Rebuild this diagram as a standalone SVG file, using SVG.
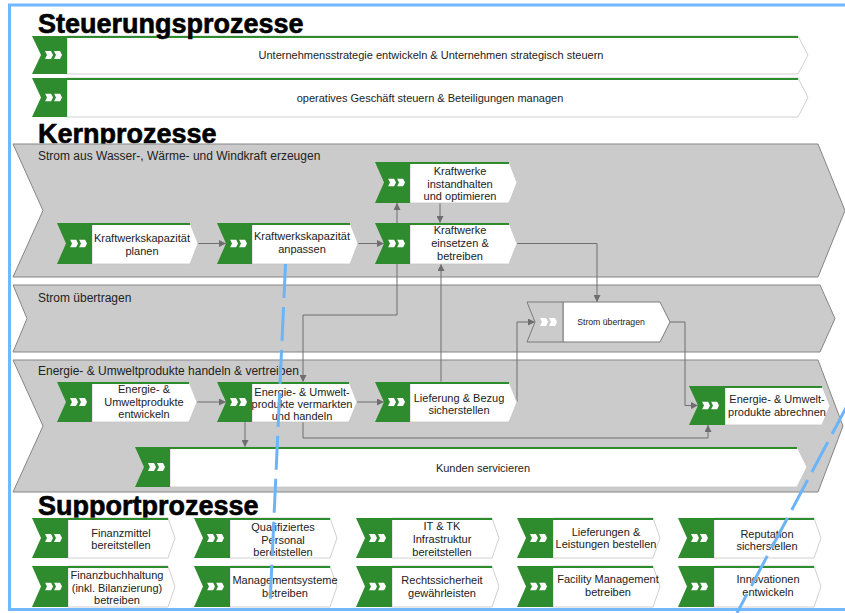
<svg xmlns="http://www.w3.org/2000/svg" xmlns:xlink="http://www.w3.org/1999/xlink" width="845" height="613" viewBox="0 0 845 613">
<style>
.lane{fill:#cbcbcb;stroke:#858585;stroke-width:1}
.g{fill:#2e8b2e}
.w{fill:#fff;stroke:#c4c4c4;stroke-width:0.8}
.gl{fill:none;stroke:#2e8b2e;stroke-width:2}
.gb{fill:#cbcbcb;stroke:#7a7a7a;stroke-width:1}
.wb{fill:#fff;stroke:#7a7a7a;stroke-width:1}
.t{font-family:"Liberation Sans",Arial,sans-serif;font-size:11px;fill:#222;text-anchor:middle}
.ln{font-family:"Liberation Sans",Arial,sans-serif;font-size:12px;fill:#222}
.h{font-family:"Liberation Sans",Arial,sans-serif;font-size:27px;font-weight:bold;fill:#000;stroke:#000;stroke-width:0.6}
.c{fill:none;stroke:#6e6e6e;stroke-width:1}
.blue{fill:none;stroke:#6cb4f8;stroke-width:3;stroke-dasharray:34 9}
</style>
<defs>
<symbol id="chev" viewBox="0 0 17 8" width="17" height="8"><path d="M0,0H6L8,4L6,8H0L2,4Z M9,0H15L17,4L15,8H9L11,4Z" fill="#fff"/></symbol>
<marker id="arr" viewBox="0 0 8 8" refX="8" refY="4" markerWidth="7" markerHeight="7" orient="auto" markerUnits="userSpaceOnUse"><path d="M0,0L8,4L0,8Z" fill="#6e6e6e"/></marker>
</defs>
<rect x="0" y="0" width="845" height="613" fill="#fff"/>
<rect x="9.5" y="5" width="850" height="604.5" fill="none" stroke="#70b8ff" stroke-width="3"/>

<text class="h" x="38" y="143">Kernprozesse</text>

<g id="lanes">
<path id="lane-erzeugen" class="lane" d="M13,144H818L845,210.5L818,277H13L43,210.5Z"/>
<text class="ln" x="38" y="160">Strom aus Wasser-, Wärme- und Windkraft erzeugen</text>
<path id="lane-uebertragen" class="lane" d="M13,285H820L835,318.5L820,352H13L27,318.5Z"/>
<text class="ln" x="38" y="302">Strom übertragen</text>
<path id="lane-handeln" class="lane" d="M13,360H818L843,426L818,492H13L43,426Z"/>
<text class="ln" x="38" y="375">Energie- &amp; Umweltprodukte handeln &amp; vertreiben</text>
</g>

<g id="steuer1">
<path class="w" d="M67,36H798L808,55L798,74H67Z"/>
<path class="g" d="M32,36H67V74H32L41,55Z"/>
<path class="gl" d="M67,37H798"/>
<use xlink:href="#chev" x="45" y="51"/>
<text class="t" x="431" y="59">Unternehmensstrategie entwickeln &amp; Unternehmen strategisch steuern</text>
</g>
<g id="steuer2">
<path class="w" d="M67,78H798L808,97.5L798,117H67Z"/>
<path class="g" d="M32,78H67V117H32L41,97.5Z"/>
<path class="gl" d="M67,79H798"/>
<use xlink:href="#chev" x="45" y="93.5"/>
<text class="t" x="430" y="102">operatives Geschäft steuern &amp; Beteiligungen managen</text>
</g>
<text class="h" x="38" y="33">Steuerungsprozesse</text>

<g id="connectors">
<path class="c" d="M198,243.5H226" marker-end="url(#arr)"/>
<path class="c" d="M358,243.5H384" marker-end="url(#arr)"/>
<path class="c" d="M397,223V203" marker-end="url(#arr)"/>
<path class="c" d="M440,203V223" marker-end="url(#arr)"/>
<path class="c" d="M441,382V264" marker-end="url(#arr)"/>
<path class="c" d="M517,243.5H597V302" marker-end="url(#arr)"/>
<path class="c" d="M397,264V315H303V382" marker-end="url(#arr)"/>
<path class="c" d="M197,402H226" marker-end="url(#arr)"/>
<path class="c" d="M357,402H384" marker-end="url(#arr)"/>
<path class="c" d="M517,402V322H535" marker-end="url(#arr)"/>
<path class="c" d="M670,322H685V405.5H698" marker-end="url(#arr)"/>
<path class="c" d="M303,422V438H708V425" marker-end="url(#arr)"/>
<path class="c" d="M245,422V447" marker-end="url(#arr)"/>
</g>

<g id="kraftwerkskapazitaet-planen">
<path class="w" d="M92,223H190L198,243.5L190,264H92Z"/>
<path class="g" d="M57,223H92V264H57L66,243.5Z"/>
<path class="gl" d="M92,224H190"/>
<use xlink:href="#chev" x="70" y="239.5"/>
<text class="t" x="142"><tspan x="142" y="242">Kraftwerkskapazität</tspan><tspan x="142" y="255">planen</tspan></text>
</g>
<g id="kraftwerkskapazitaet-anpassen">
<path class="w" d="M252,223H350L358,243.5L350,264H252Z"/>
<path class="g" d="M217,223H252V264H217L226,243.5Z"/>
<path class="gl" d="M252,224H350"/>
<use xlink:href="#chev" x="230" y="239.5"/>
<text class="t"><tspan x="302" y="240">Kraftwerkskapazität</tspan><tspan x="302" y="253">anpassen</tspan></text>
</g>
<g id="kraftwerke-einsetzen">
<path class="w" d="M410,223H509L517,243.5L509,264H410Z"/>
<path class="g" d="M375,223H410V264H375L384,243.5Z"/>
<path class="gl" d="M410,224H509"/>
<use xlink:href="#chev" x="388" y="239.5"/>
<text class="t"><tspan x="460" y="234">Kraftwerke</tspan><tspan x="460" y="247">einsetzen &amp;</tspan><tspan x="460" y="260">betreiben</tspan></text>
</g>
<g id="kraftwerke-instandhalten">
<path class="w" d="M410,162H509L517,182.5L509,203H410Z"/>
<path class="g" d="M375,162H410V203H375L384,182.5Z"/>
<path class="gl" d="M410,163H509"/>
<use xlink:href="#chev" x="388" y="178.5"/>
<text class="t"><tspan x="460" y="175">Kraftwerke</tspan><tspan x="460" y="187.5">instandhalten</tspan><tspan x="460" y="200">und optimieren</tspan></text>
</g>
<g id="strom-uebertragen">
<path class="wb" d="M563,302H660L670,322L660,342H563Z"/>
<path class="gb" d="M527,302H563V342H527L535,322Z"/>
<use xlink:href="#chev" x="540" y="318"/>
<text class="t" x="611" y="325" style="font-size:8.7px">Strom übertragen</text>
</g>
<g id="produkte-entwickeln">
<path class="w" d="M92,382H189L197,402L189,422H92Z"/>
<path class="g" d="M57,382H92V422H57L66,402Z"/>
<path class="gl" d="M92,383H189"/>
<use xlink:href="#chev" x="70" y="398"/>
<text class="t"><tspan x="144" y="393">Energie- &amp;</tspan><tspan x="144" y="405.5">Umweltprodukte</tspan><tspan x="144" y="418">entwickeln</tspan></text>
</g>
<g id="produkte-vermarkten">
<path class="w" d="M252,382H349L357,402L349,422H252Z"/>
<path class="g" d="M217,382H252V422H217L226,402Z"/>
<path class="gl" d="M252,383H349"/>
<use xlink:href="#chev" x="230" y="398"/>
<text class="t"><tspan x="302" y="396">Energie- &amp; Umwelt-</tspan><tspan x="302" y="408">produkte vermarkten</tspan><tspan x="302" y="420">und handeln</tspan></text>
</g>
<g id="lieferung-bezug">
<path class="w" d="M410,382H509L517,402L509,422H410Z"/>
<path class="g" d="M375,382H410V422H375L384,402Z"/>
<path class="gl" d="M410,383H509"/>
<use xlink:href="#chev" x="388" y="398"/>
<text class="t"><tspan x="459" y="402">Lieferung &amp; Bezug</tspan><tspan x="459" y="414">sicherstellen</tspan></text>
</g>
<g id="produkte-abrechnen">
<path class="w" d="M725,386H822L830,405.5L822,425H725Z"/>
<path class="g" d="M689,386H725V425H689L698,405.5Z"/>
<path class="gl" d="M725,387H822"/>
<use xlink:href="#chev" x="702" y="401.5"/>
<text class="t"><tspan x="777" y="403">Energie- &amp; Umwelt-</tspan><tspan x="777" y="416">produkte abrechnen</tspan></text>
</g>
<g id="kunden-servicieren">
<path class="w" d="M170,447H797L807,467L797,487H170Z"/>
<path class="g" d="M135,447H170V487H135L144,467Z"/>
<path class="gl" d="M170,448H797"/>
<use xlink:href="#chev" x="148" y="463"/>
<text class="t" x="483" y="472">Kunden servicieren</text>
</g>

<text class="h" x="38" y="515">Supportprozesse</text>

<g id="finanzmittel">
<path class="w" d="M68,518H168L175,538L168,558H68Z"/>
<path class="g" d="M32,518H68V558H32L41,538Z"/>
<path class="gl" d="M68,519H168"/>
<use xlink:href="#chev" x="45" y="534"/>
<text class="t"><tspan x="121" y="537">Finanzmittel</tspan><tspan x="121" y="549">bereitstellen</tspan></text>
</g>
<g id="personal">
<path class="w" d="M230,518H330L337,538L330,558H230Z"/>
<path class="g" d="M194,518H230V558H194L203,538Z"/>
<path class="gl" d="M230,519H330"/>
<use xlink:href="#chev" x="207" y="534"/>
<text class="t"><tspan x="283" y="531">Qualifiziertes</tspan><tspan x="283" y="543.5">Personal</tspan><tspan x="283" y="556">bereitstellen</tspan></text>
</g>
<g id="it-tk">
<path class="w" d="M392,518H492L499,538L492,558H392Z"/>
<path class="g" d="M356,518H392V558H356L365,538Z"/>
<path class="gl" d="M392,519H492"/>
<use xlink:href="#chev" x="369" y="534"/>
<text class="t"><tspan x="442" y="530">IT &amp; TK</tspan><tspan x="442" y="543">Infrastruktur</tspan><tspan x="442" y="556">bereitstellen</tspan></text>
</g>
<g id="lieferungen">
<path class="w" d="M553,518H653L660,538L653,558H553Z"/>
<path class="g" d="M517,518H553V558H517L526,538Z"/>
<path class="gl" d="M553,519H653"/>
<use xlink:href="#chev" x="530" y="534"/>
<text class="t"><tspan x="606" y="536">Lieferungen &amp;</tspan><tspan x="606" y="548">Leistungen bestellen</tspan></text>
</g>
<g id="reputation">
<path class="w" d="M714,518H814L821,538L814,558H714Z"/>
<path class="g" d="M678,518H714V558H678L687,538Z"/>
<path class="gl" d="M714,519H814"/>
<use xlink:href="#chev" x="691" y="534"/>
<text class="t"><tspan x="767" y="538">Reputation</tspan><tspan x="767" y="550">sicherstellen</tspan></text>
</g>
<g id="finanzbuchhaltung">
<path class="w" d="M68,566H168L175,586.5L168,607H68Z"/>
<path class="g" d="M32,566H68V607H32L41,586.5Z"/>
<path class="gl" d="M68,567H168"/>
<use xlink:href="#chev" x="45" y="582.5"/>
<text class="t"><tspan x="117" y="579">Finanzbuchhaltung</tspan><tspan x="117" y="591.5">(inkl. Bilanzierung)</tspan><tspan x="117" y="604">betreiben</tspan></text>
</g>
<g id="managementsysteme">
<path class="w" d="M230,566H330L337,586.5L330,607H230Z"/>
<path class="g" d="M194,566H230V607H194L203,586.5Z"/>
<path class="gl" d="M230,567H330"/>
<use xlink:href="#chev" x="207" y="582.5"/>
<text class="t"><tspan x="285" y="584">Managementsysteme</tspan><tspan x="285" y="597">betreiben</tspan></text>
</g>
<g id="rechtssicherheit">
<path class="w" d="M392,566H492L499,586.5L492,607H392Z"/>
<path class="g" d="M356,566H392V607H356L365,586.5Z"/>
<path class="gl" d="M392,567H492"/>
<use xlink:href="#chev" x="369" y="582.5"/>
<text class="t"><tspan x="442" y="584">Rechtssicherheit</tspan><tspan x="442" y="597">gewährleisten</tspan></text>
</g>
<g id="facility-management">
<path class="w" d="M553,566H653L660,586.5L653,607H553Z"/>
<path class="g" d="M517,566H553V607H517L526,586.5Z"/>
<path class="gl" d="M553,567H653"/>
<use xlink:href="#chev" x="530" y="582.5"/>
<text class="t"><tspan x="608" y="583">Facility Management</tspan><tspan x="608" y="596">betreiben</tspan></text>
</g>
<g id="innovationen">
<path class="w" d="M714,566H814L821,586.5L814,607H714Z"/>
<path class="g" d="M678,566H714V607H678L687,586.5Z"/>
<path class="gl" d="M714,567H814"/>
<use xlink:href="#chev" x="691" y="582.5"/>
<text class="t"><tspan x="768" y="583">Innovationen</tspan><tspan x="768" y="596">entwickeln</tspan></text>
</g>

<g id="dashed-lines">
<path class="blue" d="M285.5,264L270,605"/>
<path class="blue" d="M848,404L737,613"/>
</g>
</svg>
